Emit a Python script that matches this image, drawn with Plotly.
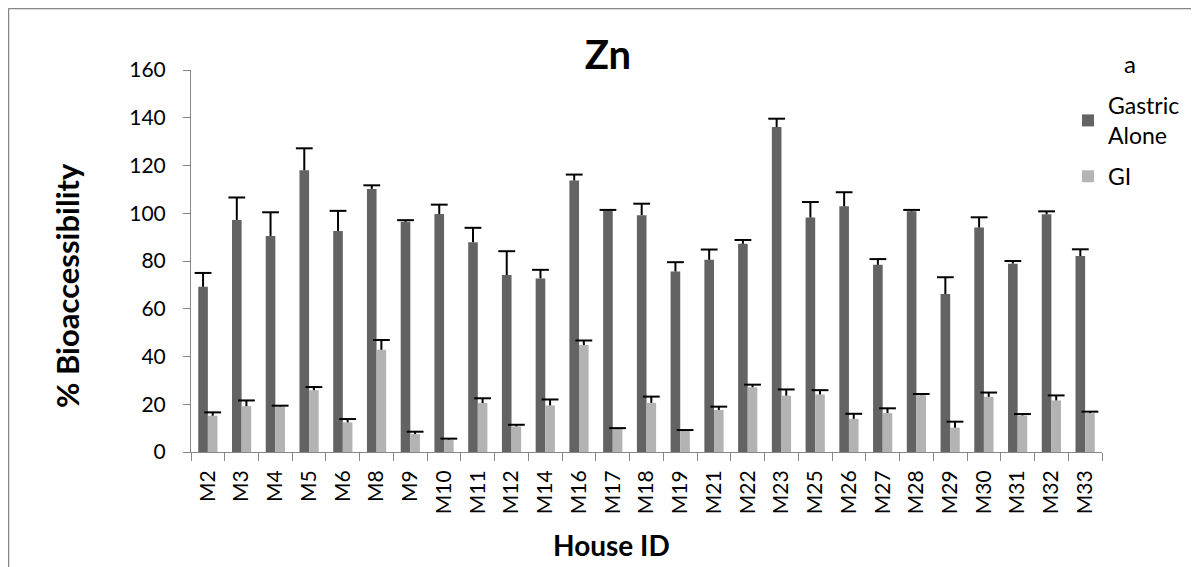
import plotly.graph_objects as go

houses = ["M2", "M3", "M4", "M5", "M6", "M8", "M9", "M10", "M11", "M12", "M14", "M16",
          "M17", "M18", "M19", "M21", "M22", "M23", "M25", "M26", "M27", "M28", "M29",
          "M30", "M31", "M32", "M33"]
gastric = [69.2, 97.2, 90.5, 118.0, 92.6, 110.2, 96.4, 99.7, 87.9, 74.1, 72.7, 113.7,
           101.0, 99.2, 75.6, 80.5, 87.2, 136.1, 98.2, 102.9, 78.4, 100.8, 66.2,
           94.0, 78.9, 99.6, 82.1]
gastric_err = [5.8, 9.4, 9.9, 9.2, 8.4, 1.5, 0.7, 3.9, 6.0, 10.0, 3.6, 2.5,
               0.4, 4.8, 3.9, 4.3, 1.6, 3.5, 6.5, 5.9, 2.4, 0.6, 7.0,
               4.3, 1.1, 1.2, 2.8]
gi = [15.2, 19.2, 19.0, 25.9, 12.4, 42.8, 7.5, 5.2, 20.5, 10.7, 19.5, 44.8,
      9.8, 20.6, 8.8, 17.6, 27.1, 23.6, 24.1, 13.9, 16.3, 23.8, 10.2,
      23.1, 15.3, 21.6, 16.3]
gi_err = [1.4, 2.4, 0.4, 1.3, 1.4, 4.1, 1.0, 0.4, 2.0, 0.7, 2.5, 1.9,
          0.2, 2.6, 0.4, 1.4, 1.1, 2.6, 1.8, 2.1, 2.0, 0.5, 2.5,
          1.8, 0.6, 2.1, 0.6]
y_ticks = [0, 20, 40, 60, 80, 100, 120, 140, 160]

FONT = "Lato"
AX = "#868686"
OFF = 8                      # page body margin
W, H = 1199 - OFF, 567 - OFF
L, R, T, B = 191 - OFF, 97, 70 - OFF, 115
PW, PH = W - L - R, H - T - B

BAR_W = 0.285
pos = list(range(len(houses)))
x_g = [p - BAR_W / 2 for p in pos]
x_i = [p + BAR_W / 2 for p in pos]
top_g = [v + e for v, e in zip(gastric, gastric_err)]
top_i = [v + e for v, e in zip(gi, gi_err)]


def sx(px):
    """screen pixel x -> paper x"""
    return (px - OFF - L) / PW


def sy(py):
    """screen pixel y -> paper y"""
    return (H - B - (py - OFF)) / PH


err_style = dict(type="data", symmetric=False, color="black", thickness=2, width=0)

fig = go.Figure()
fig.add_trace(go.Bar(
    x=pos, y=gastric, name="Gastric<br>Alone", legendgroup="g1",
    width=BAR_W, offset=-BAR_W,
    marker=dict(color="#636363", line=dict(width=0)),
    error_y=dict(array=gastric_err, arrayminus=[0] * len(pos), **err_style),
))
fig.add_trace(go.Bar(
    x=pos, y=gi, name="GI", legendgroup="g2",
    width=BAR_W, offset=0,
    marker=dict(color="#b3b3b3", line=dict(width=0)),
    error_y=dict(array=gi_err, arrayminus=[0] * len(pos), **err_style),
))
# error bar caps (upper only)
for xs, ys in ((x_g, top_g), (x_i, top_i)):
    fig.add_trace(go.Scatter(
        x=xs, y=ys, mode="markers", showlegend=False, hoverinfo="skip",
        marker=dict(symbol="line-ew", size=12, line=dict(color="black", width=2)),
    ))

fig.update_layout(
    width=W, height=H,
    margin=dict(l=L, r=R, t=T, b=B, autoexpand=False),
    paper_bgcolor="white", plot_bgcolor="white",
    font=dict(family=FONT, color="black", size=21),
    barmode="overlay",
    showlegend=True,
    legend=dict(x=sx(1068), y=sy(84), xanchor="left", yanchor="top",
                font=dict(family=FONT, size=23, color="black"),
                bgcolor="rgba(0,0,0,0)", tracegroupgap=8,
                itemsizing="constant"),
    title=dict(text="<b>Zn</b>", x=(608 - OFF) / W, xanchor="center",
               y=1 - (55 - OFF) / H, yanchor="middle",
               font=dict(family=FONT, size=40, color="black")),
    xaxis=dict(
        range=[-0.5, len(houses) - 0.5], automargin=False,
        tickmode="array", tickvals=pos, ticktext=houses,
        showline=True, linecolor=AX, linewidth=1,
        ticks="", tickangle=-90, tickfont=dict(family=FONT, size=21),
        ticklabelstandoff=9,
        minor=dict(tickmode="linear", tick0=-0.5, dtick=1, ticks="outside",
                   ticklen=8, tickcolor=AX, showgrid=False),
        showgrid=False, zeroline=False,
    ),
    yaxis=dict(
        range=[0, 160], tickvals=y_ticks, automargin=False,
        showline=True, linecolor=AX, linewidth=1,
        ticks="outside", ticklen=7, tickcolor=AX,
        tickfont=dict(family=FONT, size=21), ticklabelstandoff=13,
        showgrid=False, zeroline=False,
    ),
    shapes=[
        dict(type="line", xref="paper", yref="paper",
             x0=sx(8.5), x1=sx(1220), y0=sy(8.5), y1=sy(8.5),
             line=dict(color=AX, width=1.5)),
        dict(type="line", xref="paper", yref="paper",
             x0=sx(8.5), x1=sx(8.5), y0=sy(8.5), y1=sy(600),
             line=dict(color=AX, width=1.5)),
    ],
    annotations=[
        dict(text="a", xref="paper", yref="paper",
             x=sx(1130), y=sy(63), xanchor="center", yanchor="middle",
             showarrow=False, font=dict(family=FONT, size=24, color="black")),
        dict(text="<b>% Bioaccessibility</b>", xref="paper", yref="paper",
             x=sx(67), y=sy(286), xanchor="center", yanchor="middle",
             textangle=-90, showarrow=False,
             font=dict(family=FONT, size=31, color="black")),
        dict(text="<b>House ID</b>", xref="paper", yref="paper",
             x=sx(611), y=sy(545), xanchor="center", yanchor="middle",
             showarrow=False, font=dict(family=FONT, size=28, color="black")),
    ],
)

fig.write_html("out.html")
